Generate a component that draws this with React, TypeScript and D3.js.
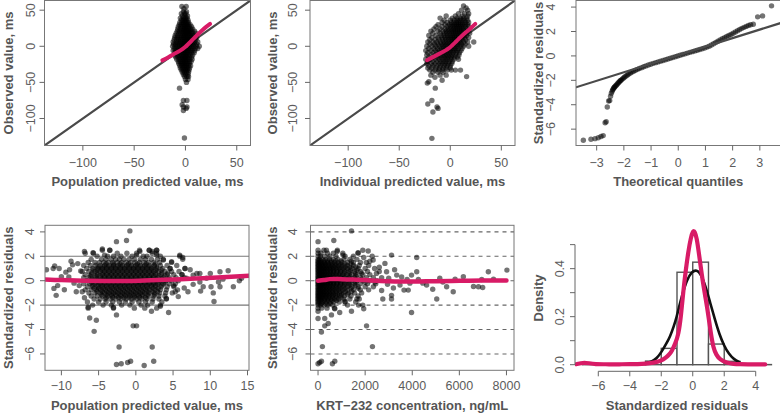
import React, { useEffect, useRef } from "react";
import * as d3 from "d3";

type Pt = [number, number];

// ---------- DATA ----------
// Panel 1: population predicted (x) vs observed (y); rows "observed: predicted values"
const p1Rows = [
  "55:-3.5 0.7", "52:-1.5", "48:-2 1", "45:-4 -1 0.5", "42:-3 -0.5 2", "39:-5 -2 0 1.5",
  "36:-4 -2.5 -1 0.5 2.5", "33:-5.5 -3 -1.5 0 1.5 3", "30:-6 -4 -2 -0.5 1 2.5 4.5",
  "27:-7 -4.5 -2.5 -1 0.5 2 3.5 6", "24:-7.5 -5 -3 -1.5 0 1.5 3 5 7",
  "21:-8 -6 -4 -2 -0.5 1 2.5 4 6 9", "18:-9 -6.5 -4.5 -2.5 -1 0.5 2 3.5 5 7 10",
  "15:-10 -7.5 -5 -3 -1.5 0 1.5 3 4.5 6.5 8.5", "12:-10.5 -8 -6 -4 -2 -0.5 1 2.5 4 6 8 11",
  "9:-11 -8.5 -6.5 -4.5 -2.5 -1 0.5 2 3.5 5.5 7.5 10", "6:-12 -9 -7 -5 -3 -1.5 0 1.5 3 5 7 9 12",
  "3:-11.5 -9.5 -7.5 -5.5 -3.5 -2 -0.5 1 2.5 4.5 6.5 8.5 11",
  "0:-12.5 -10 -8 -6 -4 -2.5 -1 0.5 2 4 6 8 10.5 13.5",
  "-3:-11 -9 -7 -5 -3 -1.5 0 1.5 3 5 7 9.5 12", "-6:-12 -9.5 -7.5 -5.5 -3.5 -2 -0.5 1 2.5 4.5 6.5 9",
  "-9:-10.5 -8.5 -6.5 -4.5 -2.5 -1 0.5 2 4 6 8.5", "-12:-11 -8 -6 -4 -2 -0.5 1 2.5 4.5 7",
  "-15:-9.5 -7 -5 -3 -1.5 0 1.5 3.5 6", "-18:-8.5 -6 -4 -2.5 -1 0.5 2 4 6.5",
  "-21:-7 -5 -3 -1.5 0 1.5 3.5 5.5", "-24:-6.5 -4 -2.5 -1 0.5 2 4", "-27:-5.5 -3.5 -2 -0.5 1 3 5",
  "-30:-5 -3 -1 0.5 2 4", "-33:-4 -2 0 1.5 3.5", "-36:-3 -1 1 3", "-39:-2 0 2.5", "-42:-1 1.5 3",
  "-46:0 2.5", "-50:1", "-58:-5.8", "-75:-2 1.4", "-81:-3.2", "-84:-2 1.5", "-86:0.7", "-89:-2", "-127:-1",
];
const p1Loess = "-22.5,-19.5 -17,-15.5 -11.7,-11 -5.2,-6 -0.3,-1 3,3.5 6.2,8 10,13.5 14.3,19.5 19,25.5 24,31";

// Panel 2: individual predicted (x) vs observed (y); rows "observed: predicted values"
const p2Rows = [
  "56:13", "53:15.5", "50:11 17", "45:8 14 18", "42:-4 5 12 17", "39:-10 2 7 10 13 16",
  "36:-6 0 4 6.5 9 11.5 14 17", "33:-8 -3 1 3.5 6 8 10 12.5 15 18",
  "30:-12 -5 -1 1.5 4 6 8 10 12 14.5 17", "27:-14 -8 -3 0 2.5 4.5 6.5 8.5 10.5 12.5 15 18",
  "24:-16 -10 -5 -2 0.5 3 5 7 9 11 13 16", "21:-19 -12 -7 -4 -1.5 1 3 5 7 9 11 13.5 16.5",
  "18:-17 -10 -6 -3.5 -1 1.5 3.5 5.5 7.5 9.5 12 15 19", "15:-21 -14 -9 -6 -3 -0.5 2 4 6 8 10.5 13 16",
  "12:-18 -12 -8 -5 -2.5 0 2 4 6 8.5 11 14 18", "9:-20 -15 -11 -7.5 -4.5 -2 0.5 2.5 4.5 7 9.5 12 15",
  "6:-22 -17 -13 -9.5 -6.5 -4 -1.5 1 3 5 7.5 10 13 17 23",
  "3:-20 -15.5 -12 -8.5 -6 -3.5 -1 1.5 3.5 6 8.5 11 14.5",
  "0:-23 -18 -14 -10.5 -7.5 -5 -2.5 0 2 4.5 7 10 13 18",
  "-3:-21 -16 -12.5 -9 -6.5 -4 -1.5 0.5 3 5.5 8 11.5", "-6:-24 -19 -14.5 -11 -8 -5.5 -3 -0.5 2 4.5 7 10.5",
  "-9:-22 -17 -13 -10 -7 -4.5 -2 0.5 3 6 9", "-12:-23 -18.5 -14.5 -11 -8 -5.5 -3 -0.5 2 5 8.5",
  "-15:-21 -16 -12.5 -9.5 -6.5 -4 -1.5 1 4 7", "-18:-24 -19 -14.5 -11 -8 -5 -2.5 0.5 3.5 8",
  "-21:-22 -17 -13 -9.5 -6.5 -4 -1 2", "-24:-23 -18.5 -15 -11 -8 -5 -2 1.5",
  "-27:-21 -17 -13 -9.5 -6 -3 0", "-30:-22 -18 -14 -10.5 -7 -4 0", "-33:-20 -15 -11 -7.5 -3 1 5 10",
  "-36:-17 -12 -7", "-40:-19 -10 -4", "-42:16", "-43:-15", "-47:-8", "-49:-21", "-51:-22.5",
  "-58:-14.7", "-75:-18", "-80:-22", "-84:-13", "-86:-12", "-91:-17", "-127.5:-18",
];
const p2Loess = "-22.8,-19.3 -17,-15 -11,-10.5 -5,-6 -1.6,-3 2,1.5 6,7 10,12.5 15,19 20,25 24.5,31";

// Panel 3: normal Q-Q of standardized residuals (theoretical, sample)
const p3Points =
  "-3.49,-6.91 -3.21,-6.83 -3.06,-6.78 -2.94,-6.7 -2.84,-6.6 -2.76,-6.53 -2.69,-5.47 -2.65,-5.4 -2.61,-4.18 " +
  "-2.56,-3.7 -2.52,-3.66 -2.49,-3.3 -2.46,-3.05 -2.43,-2.9 -2.41,-2.78 -2.39,-2.7 -2.37,-2.63 -2.35,-2.57 " +
  "-2.33,-2.52 -2.3,-2.45 -2.27,-2.38 -2.24,-2.3 -2.21,-2.22 -2.18,-2.15 -2.15,-2.08 -2.12,-2.02 -2.09,-1.96 " +
  "-2.05,-1.88 -2.01,-1.8 -1.97,-1.72 -1.92,-1.64 -1.87,-1.56 -1.82,-1.48 -1.76,-1.4 -1.7,-1.32 -1.64,-1.25 " +
  "-1.57,-1.17 -1.5,-1.1 -1.43,-1.03 -1.35,-0.96 -1.27,-0.89 -1.19,-0.82 -1.1,-0.75 -1.01,-0.68 -0.92,-0.61 " +
  "-0.83,-0.55 -0.74,-0.49 -0.65,-0.43 -0.56,-0.37 -0.47,-0.31 -0.38,-0.25 -0.29,-0.19 -0.2,-0.13 -0.11,-0.07 " +
  "-0.02,-0.01 0.07,0.05 0.16,0.11 0.25,0.17 0.34,0.23 0.43,0.29 0.52,0.35 0.61,0.41 0.7,0.47 0.79,0.53 " +
  "0.88,0.59 0.97,0.65 1.06,0.72 1.14,0.8 1.22,0.9 1.3,1.0 1.38,1.1 1.46,1.2 1.54,1.3 1.62,1.4 1.7,1.5 " +
  "1.78,1.59 1.86,1.67 1.94,1.76 2.02,1.86 2.1,1.96 2.18,2.06 2.26,2.16 2.34,2.26 2.42,2.34 2.5,2.42 " +
  "2.58,2.5 2.66,2.55 2.76,2.6 2.92,3.2 3.1,3.28 3.43,4.1";
const p3Line = "-3.76,-2.57 3.76,2.69";

// Panel 4: population predicted (x) vs standardized residual (y); rows "residual: predicted values"
const p4Rows = [
  "2.5:-4.5 -3.5 0.5 1.8 2.8", "2.25:-6.8 -5.7 -2.5 -1.2 0.1 2.2 2.8",
  "2.0:-5.2 -3.8 -3 -2 -0.5 1 1.5 3.3 5.9",
  "1.75:-6 -4.6 -4 -3.3 -2.7 -2.2 -1.6 -0.9 -0.2 0.6 1.3 2.1 2.9 3.7 6.3",
  "1.5:-6.4 -5.5 -4.9 -4.3 -3.7 -3.1 -2.5 -1.9 -1.3 -0.7 -0.1 0.5 1.1 1.7 2.4 3.2 4.8",
  "1.375:-4 -3 -2.1 -1 0.2 1.4 2.6",
  "1.25:-7 -6.1 -5.4 -4.8 -4.2 -3.6 -3 -2.4 -1.8 -1.2 -0.6 0 0.6 1.2 1.8 2.5 3.3 4.2 5.5",
  "1.125:-5.1 -4.5 -3.9 -3.3 -2.7 -2.1 -1.5 -0.9 -0.3 0.3 0.9 1.5 2.1 2.8",
  "1.0:-6.6 -5.8 -5.1 -4.5 -3.9 -3.3 -2.7 -2.1 -1.5 -0.9 -0.3 0.3 0.9 1.5 2.1 2.8 3.6 4.6 6.6",
  "0.875:-5.7 -5.1 -4.5 -3.9 -3.3 -2.7 -2.1 -1.5 -0.9 -0.3 0.3 0.9 1.5 2.1 2.7 3.4",
  "0.75:-7.2 -6.3 -5.5 -4.8 -4.2 -3.6 -3 -2.4 -1.8 -1.2 -0.6 0 0.6 1.2 1.8 2.4 3.1 3.9 4.8 5.8",
  "0.625:-5.9 -5.2 -4.5 -3.9 -3.3 -2.7 -2.1 -1.5 -0.9 -0.3 0.3 0.9 1.5 2.1 2.7 3.5 4.3",
  "0.5:-6.8 -6 -5.2 -4.5 -3.9 -3.3 -2.7 -2.1 -1.5 -0.9 -0.3 0.3 0.9 1.5 2.1 2.7 3.4 4.2 5.1 6.2",
  "0.375:-6.1 -5.4 -4.8 -4.2 -3.6 -3 -2.4 -1.8 -1.2 -0.6 0 0.6 1.2 1.8 2.4 3.1 3.9",
  "0.25:-7 -6.3 -5.5 -4.8 -4.2 -3.6 -3 -2.4 -1.8 -1.2 -0.6 0 0.6 1.2 1.8 2.4 3 3.7 4.5 5.4 6.5",
  "0.125:-5.9 -5.2 -4.5 -3.9 -3.3 -2.7 -2.1 -1.5 -0.9 -0.3 0.3 0.9 1.5 2.1 2.7 3.5 4.4",
  "0:-6.6 -5.8 -5.1 -4.5 -3.9 -3.3 -2.7 -2.1 -1.5 -0.9 -0.3 0.3 0.9 1.5 2.1 2.7 3.3 4 4.8 5.7",
  "-0.125:-6 -5.4 -4.8 -4.2 -3.6 -3 -2.4 -1.8 -1.2 -0.6 0 0.6 1.2 1.8 2.4 3.1 3.9",
  "-0.25:-7 -6.2 -5.5 -4.8 -4.2 -3.6 -3 -2.4 -1.8 -1.2 -0.6 0 0.6 1.2 1.8 2.4 3 3.7 4.5 5.3",
  "-0.375:-5.8 -5.1 -4.5 -3.9 -3.3 -2.7 -2.1 -1.5 -0.9 -0.3 0.3 0.9 1.5 2.1 2.7 3.5",
  "-0.5:-6.5 -5.8 -5.1 -4.5 -3.9 -3.3 -2.7 -2.1 -1.5 -0.9 -0.3 0.3 0.9 1.5 2.1 2.7 3.4 4.2 5.1",
  "-0.625:-5.6 -5 -4.4 -3.8 -3.2 -2.6 -2 -1.4 -0.8 -0.2 0.4 1 1.6 2.3 3",
  "-0.75:-6.8 -6 -5.3 -4.7 -4.1 -3.5 -2.9 -2.3 -1.7 -1.1 -0.5 0.1 0.7 1.3 1.9 2.6 3.3 4.1 5.6",
  "-0.875:-5.2 -4.5 -3.9 -3.3 -2.7 -2.1 -1.5 -0.9 -0.3 0.3 0.9 1.5 2.2 2.9",
  "-1.0:-6.3 -5.5 -4.8 -4.2 -3.6 -3 -2.4 -1.8 -1.2 -0.6 0 0.6 1.2 1.8 2.5 3.2 4 4.9",
  "-1.125:-4.6 -3.9 -3.3 -2.7 -2.1 -1.5 -0.9 -0.3 0.3 0.9 1.6 2.5",
  "-1.25:-6 -5.2 -4.5 -3.8 -3.2 -2.6 -2 -1.4 -0.8 -0.2 0.4 1 1.7 2.4 3.1 3.9",
  "-1.375:-4 -3.1 -2.3 -1.6 -0.9 -0.2 0.5 1.3",
  "-1.5:-5.6 -4.8 -4.1 -3.4 -2.7 -2 -1.3 -0.6 0.1 0.8 1.5 2.3 3.1 4.1",
  "-1.75:-6.5 -5 -4 -3.1 -2.2 -1.4 -0.5 0.4 1.3 2.2 3.5",
  "-2.0:-5.8 -4.4 -3.3 -1.9 -0.8 0.7 1.6 3.3", "-2.25:-6.4 -3 -0.2 1.2 2.8",
];
const p4Extra =
  "-0.8,4.08 -2.6,3.2 -1.25,3.3 -6.9,2.4 -5.75,2.3 -4.5,2.6 -8.7,1.6 -11.1,1.0 -10.9,1.2 -10.3,1.0 -9.4,0.7 " +
  "-8.9,0.9 -7.8,1.4 -11,-0.63 -10.7,-1.2 -9.6,-0.74 -10.5,-0.4 -10,0.33 -8,-0.9 -7.6,-0.4 -6.4,-2.17 -6.2,-3.05 " +
  "-5.3,-3.24 -5.6,-4.15 -3,-2.2 -2.6,-2.8 -0.36,-3.7 0.1,-3.7 -2.25,-5.43 2.2,-5.43 -2.6,-6.86 -1.96,-6.8 " +
  "-1.1,-6.7 -0.7,-6.6 1.12,-6.95 2.4,-6.6 2.1,-2.5 4.4,-2.6 3.3,-2.1 5.9,2.1 6.3,1.9 6.6,1.0 7.3,0.9 7.7,0.46 " +
  "8.6,0.6 8.6,-0.1 8.7,-0.85 9.05,-0.5 10.1,-0.5 10.4,-1.0 10.5,-1.7 11.3,0.74 11.3,-0.5 11.1,-0.1 11.7,0.13 " +
  "12.4,0.82 13.1,-0.5 13.9,0 14.2,0.2 7.7,-0.3 6.8,0.2 5.1,-0.4 5.3,-0.9 5.7,-1.3 4.1,-1.46 4.6,1.0 4.8,1.56 " +
  "3.7,1.7 2.8,2.5 2.2,2.4 1.8,2.5 2.8,2.1 0.54,2.4 0.1,2.1 -3.5,2.5 -4.2,2.1 8.2,0.6 -8.3,-0.2 -9,0.3 -7.4,0.8 " +
  "-8.5,1.3 -12,0.9 -6.9,-1.4 -7.2,-0.9 6.5,-0.6 6.2,0.5 7,-0.9 9.5,0.2 10,0.6";
const p4Loess = "-12.2,0.1 -10,0.05 -7,0.0 -4,-0.02 -1,-0.03 2,0.03 5,0.1 8,0.18 11,0.27 15.2,0.41";

// Panel 5: KRT-232 concentration (x) vs standardized residual (y); rows "residual: concentrations"
const p5Rows = [
  "2.5:0 250 820 1900", "2.25:0 120 400 650 1050 1700", "2.0:0 100 280 500 760 1150 1500 2300",
  "1.75:0 60 180 330 480 650 850 1100 1350 1650",
  "1.625:0 110 250 400 570 760 980",
  "1.5:0 50 150 270 400 540 690 850 1020 1250 1500 1800 2050",
  "1.375:0 90 200 320 450 600 760 950 1150 1400",
  "1.25:0 40 130 230 340 460 590 730 880 1050 1250 1500 1750 2150",
  "1.125:0 90 190 300 410 530 660 810 970 1150 1350 1600",
  "1.0:0 50 140 240 350 470 600 740 890 1060 1250 1450 1700 2000 2400",
  "0.875:0 90 190 290 400 520 650 800 960 1150 1380 1650",
  "0.75:0 40 120 210 310 420 540 670 810 960 1130 1320 1550 1800 2100 2600",
  "0.625:0 90 180 280 390 510 640 780 940 1120 1330 1580 1850",
  "0.5:0 50 140 240 350 470 600 740 890 1050 1230 1430 1650 1900 2200",
  "0.375:0 90 190 290 400 520 650 800 960 1140 1350 1600",
  "0.25:0 40 120 210 310 420 540 670 810 960 1130 1320 1550 1800 2050 2350 2700",
  "0.125:0 90 180 280 390 510 640 780 940 1120 1330 1580 1850",
  "0:0 50 140 240 350 470 600 740 890 1050 1230 1430 1650 1900 2200 2500",
  "-0.125:0 90 190 290 400 520 650 800 960 1140 1350 1600 2000",
  "-0.25:0 40 120 210 310 420 540 670 810 960 1130 1320 1550 1800 2100 2450",
  "-0.375:0 90 180 280 390 510 640 780 940 1120 1330 1580",
  "-0.5:0 50 140 240 350 470 600 740 890 1060 1250 1450 1700 2000 2350",
  "-0.625:0 90 190 290 400 520 650 800 960 1150 1400 1700",
  "-0.75:0 40 130 230 340 460 590 730 880 1050 1250 1500 1800 2150",
  "-0.875:0 90 180 280 390 510 640 790 960 1160 1420",
  "-1.0:0 50 140 240 350 470 600 740 900 1080 1300 1550 1850",
  "-1.125:0 90 190 290 400 520 660 820 1000 1250",
  "-1.25:0 40 130 230 340 460 600 750 920 1120 1400 1700",
  "-1.375:0 100 210 340 470 620 790 980",
  "-1.5:0 60 160 280 410 550 700 880 1100 1350 1650",
  "-1.625:0 130 270 420 590 780",
  "-1.75:0 80 200 350 500 680 900 1150 1600", "-1.875:0 150 320 520",
  "-2.0:0 100 250 420 620 1250 1900", "-2.25:0 150 380 700",
];
const p5Extra =
  "1420,4.08 0,3.2 670,3.3 2130,2.44 2340,1.7 3120,2.1 4190,1.9 4190,0.74 4610,-0.36 4870,-0.7 5040,-1.5 " +
  "5170,0.2 5460,-0.5 5740,-0.9 5820,0.13 6170,0.33 6600,-0.47 6810,-0.5 6950,0.1 7230,0.74 7450,0.13 8020,0.87 " +
  "6990,-0.55 3970,-2.6 3120,-1.5 3120,-1.2 3480,-0.36 3650,-0.77 3830,-0.77 3780,0.1 3970,0.46 4260,0.1 " +
  "3340,0.46 2910,0.74 2840,1.42 2480,0.6 2410,-0.1 0,-2.5 0,-3.1 285,-3.1 570,-2.8 430,-3.5 285,-3.7 145,-4.2 " +
  "185,-5.4 0,-6.8 70,-6.7 145,-6.6 610,-6.8 710,-6.6 2060,-3.7 2310,-5.4 1420,-2.5 920,-2.6 710,-2.3 1940,-2.3 " +
  "1720,-2 1140,-1.7 810,2.4 355,2.5 1060,2.1 1700,2.3 1940,1.9 1420,1.6 2700,-0.8 2950,-0.3 3000,0.2 3250,0.9 " +
  "3550,0.3 2600,1.1 3200,-0.6 2750,-1.5 4450,-0.2 5300,-0.1 2200,1.6 1750,-1.5 3900,-0.2";
const p5Loess = "0,0 250,0.05 500,0.13 1000,0.13 1500,0.1 2000,0.05 2500,0 3000,-0.04 3500,-0.06 4300,-0.06 5000,-0.04 6000,-0.01 7000,0.01 8000,0.02";

// Panel 6: histogram of standardized residuals (bin start, density), normal curve, kernel density
const p6BinStarts = [-7, -6, -5, -4, -3, -2, -1, 0, 1, 2, 3, 4];
const p6BinDensity = [0.004, 0.0005, 0.0005, 0.002, 0.015, 0.068, 0.385, 0.427, 0.086, 0.014, 0.0015, 0.0005];
const p6Normal =
  "-3.0,0.006 -2.6,0.0125 -2.3,0.025 -1.97,0.054 -1.7,0.085 -1.44,0.117 -1.2,0.16 -1.02,0.2 -0.85,0.245 " +
  "-0.7,0.283 -0.38,0.353 -0.06,0.388 0.25,0.395 0.5,0.38 0.8,0.33 1.1,0.26 1.4,0.19 1.7,0.125 2.0,0.078 " +
  "2.3,0.044 2.6,0.023 3.0,0.009";
const p6Kde =
  "-7.4,0.002 -7.1,0.006 -6.9,0.009 -6.6,0.006 -6.2,0.002 -5.5,0.002 -5,0.001 -4.5,0.002 -4,0.002 -3.5,0.002 " +
  "-3,0.004 -2.5,0.008 -2,0.016 -1.7,0.03 -1.5,0.042 -1.33,0.056 -1.1,0.09 -0.91,0.125 -0.75,0.2 -0.6,0.306 " +
  "-0.45,0.39 -0.28,0.472 -0.12,0.53 0.02,0.558 0.12,0.556 0.25,0.53 0.4,0.46 0.57,0.375 0.78,0.29 0.99,0.208 " +
  "1.15,0.13 1.31,0.07 1.5,0.04 1.73,0.021 2.16,0.007 2.6,0.003 3,0.002 3.5,0.001 4,0.002 4.6,0.001";

// Tick values
const ticksObsPred = [-100, -50, 0, 50];
const ticksQQx = [-3, -2, -1, 0, 1, 2, 3];
const ticksResid = [-6, -4, -2, 0, 2, 4];
const ticksPredBottom = [-10, -5, 0, 5, 10, 15];
const ticksConc = [0, 2000, 4000, 6000, 8000];
const ticksHistX = [-6, -4, -2, 0, 2, 4];
const ticksDensity = [0, 0.1, 0.2, 0.3, 0.4, 0.5];
const labelsDensity = ["0.0", "", "0.2", "", "0.4", ""];
const refLinesP4 = [-2, 2];
const refLinesP5 = [-6, -4, -2, 0, 2, 4];

// ---------- helpers ----------
const parseRows = (rows: string[]): Pt[] =>
  rows.flatMap((r) => {
    const [ys, xs] = r.split(":");
    const yv = +ys;
    return xs.trim().split(/\s+/).map((v) => [+v, yv] as Pt);
  });
const parsePairs = (s: string): Pt[] =>
  s.trim().split(/\s+/).map((p) => {
    const [a, b] = p.split(",");
    return [+a, +b] as Pt;
  });

const PINK = "#d81b66";
const FONT = "'Liberation Sans', Arial, Helvetica, sans-serif";
const TICK_COLOR = "#5c5c5c";
const TITLE_COLOR = "#555";
const fmt = (v: number) => (v < 0 ? "\u2212" + Math.abs(v) : String(v));

interface Cfg {
  id: string;
  left: number; right: number; top: number; bottom: number;
  xDom: [number, number]; yDom: [number, number];
}

function makePanel(svg: any, c: Cfg) {
  const x = d3.scaleLinear().domain(c.xDom).range([c.left, c.right]);
  const y = d3.scaleLinear().domain(c.yDom).range([c.bottom, c.top]);
  svg.append("clipPath").attr("id", c.id).append("rect")
    .attr("x", c.left).attr("y", c.top).attr("width", c.right - c.left).attr("height", c.bottom - c.top);
  const g = svg.append("g");
  const plot = g.append("g").attr("clip-path", `url(#${c.id})`);
  return { x, y, g, plot, c };
}

function box(p: any) {
  const { c } = p;
  p.g.append("rect").attr("x", c.left).attr("y", c.top)
    .attr("width", c.right - c.left).attr("height", c.bottom - c.top)
    .attr("fill", "none").attr("stroke", "#777").attr("stroke-width", 1);
}

function xAxis(p: any, yPos: number, ticks: number[], labels: string[], labelY: number, line = false) {
  const g = p.g.append("g");
  if (line) g.append("line").attr("x1", p.x(ticks[0])).attr("x2", p.x(ticks[ticks.length - 1]))
    .attr("y1", yPos).attr("y2", yPos).attr("stroke", "#666").attr("stroke-width", 1);
  ticks.forEach((t, i) => {
    g.append("line").attr("x1", p.x(t)).attr("x2", p.x(t)).attr("y1", yPos).attr("y2", yPos + 5)
      .attr("stroke", "#666").attr("stroke-width", 1);
    if (labels[i]) g.append("text").attr("x", p.x(t)).attr("y", labelY).attr("text-anchor", "middle")
      .attr("font-size", 12.5).attr("fill", TICK_COLOR).text(labels[i]);
  });
}

function yAxis(p: any, xPos: number, ticks: number[], labels: string[], labelX: number, line = false) {
  const g = p.g.append("g");
  if (line) g.append("line").attr("y1", p.y(ticks[0])).attr("y2", p.y(ticks[ticks.length - 1]))
    .attr("x1", xPos).attr("x2", xPos).attr("stroke", "#666").attr("stroke-width", 1);
  ticks.forEach((t, i) => {
    g.append("line").attr("y1", p.y(t)).attr("y2", p.y(t)).attr("x1", xPos).attr("x2", xPos - 5)
      .attr("stroke", "#666").attr("stroke-width", 1);
    if (labels[i]) g.append("text").attr("transform", `translate(${labelX},${p.y(t)}) rotate(-90)`)
      .attr("text-anchor", "middle").attr("font-size", 12.5).attr("fill", TICK_COLOR).text(labels[i]);
  });
}

function titles(p: any, xt: string, xtY: number, yt: string, ytX: number) {
  const { c } = p;
  p.g.append("text").attr("x", (c.left + c.right) / 2).attr("y", xtY).attr("text-anchor", "middle")
    .attr("font-size", 13).attr("font-weight", "bold").attr("fill", TITLE_COLOR).text(xt);
  p.g.append("text").attr("transform", `translate(${ytX},${(c.top + c.bottom) / 2}) rotate(-90)`)
    .attr("text-anchor", "middle").attr("font-size", 13).attr("font-weight", "bold")
    .attr("fill", TITLE_COLOR).text(yt);
}

function dots(p: any, pts: Pt[]) {
  p.plot.append("g").selectAll("circle").data(pts).join("circle")
    .attr("cx", (d: Pt) => p.x(d[0])).attr("cy", (d: Pt) => p.y(d[1]))
    .attr("r", 2.7).attr("fill", "#000").attr("fill-opacity", 0.55);
}

function path(p: any, pts: Pt[], color: string, width: number, curve: any = d3.curveCatmullRom) {
  const line = d3.line<Pt>().x((d) => p.x(d[0])).y((d) => p.y(d[1])).curve(curve);
  p.plot.append("path").attr("d", line(pts)).attr("fill", "none").attr("stroke", color)
    .attr("stroke-width", width).attr("stroke-linecap", "round").attr("stroke-linejoin", "round");
}

export default function App() {
  const ref = useRef<SVGSVGElement>(null);
  useEffect(() => {
    const svg = d3.select(ref.current!);
    svg.selectAll("*").remove();

    // ---- Panel 1
    const dom1: [number, number] = [-137.4, 63.4];
    const p1 = makePanel(svg, { id: "c1", left: 44.5, right: 250.5, top: 0.5, bottom: 145.5, xDom: dom1, yDom: dom1 });
    path(p1, [[dom1[0], dom1[0]], [dom1[1], dom1[1]]], "#4a4a4a", 2.2, d3.curveLinear);
    dots(p1, parseRows(p1Rows));
    path(p1, parsePairs(p1Loess), PINK, 4);
    box(p1);
    xAxis(p1, 145.5, ticksObsPred, ticksObsPred.map(fmt), 166.5);
    yAxis(p1, 44.5, ticksObsPred, ticksObsPred.map(fmt), 34.5);
    titles(p1, "Population predicted value, ms", 185.5, "Observed value, ms", 13);

    // ---- Panel 2
    const p2 = makePanel(svg, { id: "c2", left: 310, right: 515, top: 0.5, bottom: 145.5, xDom: dom1, yDom: dom1 });
    path(p2, [[dom1[0], dom1[0]], [dom1[1], dom1[1]]], "#4a4a4a", 2.2, d3.curveLinear);
    dots(p2, parseRows(p2Rows));
    path(p2, parsePairs(p2Loess), PINK, 4);
    box(p2);
    xAxis(p2, 145.5, ticksObsPred, ticksObsPred.map(fmt), 166.5);
    yAxis(p2, 310, ticksObsPred, ticksObsPred.map(fmt), 296.8);
    titles(p2, "Individual predicted value, ms", 185.5, "Observed value, ms", 276.5);

    // ---- Panel 3
    const residDom: [number, number] = [-7.34, 4.54];
    const p3 = makePanel(svg, { id: "c3", left: 576, right: 780.5, top: 0.5, bottom: 145.5, xDom: [-3.76, 3.76], yDom: residDom });
    dots(p3, parsePairs(p3Points));
    path(p3, parsePairs(p3Line), "#4a4a4a", 2.2, d3.curveLinear);
    box(p3);
    xAxis(p3, 145.5, ticksQQx, ticksQQx.map(fmt), 166.5);
    yAxis(p3, 576, ticksResid, ticksResid.map(fmt), 554.5);
    titles(p3, "Theoretical quantiles", 185.5, "Standardized residuals", 543);

    // ---- Panel 4
    const p4 = makePanel(svg, { id: "c4", left: 45, right: 249, top: 225.3, bottom: 370.3, xDom: [-12.2, 15.2], yDom: residDom });
    refLinesP4.forEach((v) => path(p4, [[-12.2, v], [15.2, v]], "#777", 1.1, d3.curveLinear));
    dots(p4, parseRows(p4Rows).concat(parsePairs(p4Extra)));
    path(p4, parsePairs(p4Loess), PINK, 4.5);
    box(p4);
    xAxis(p4, 370.3, ticksPredBottom, ticksPredBottom.map(fmt), 389.5);
    yAxis(p4, 45, ticksResid, ticksResid.map(fmt), 33.8);
    titles(p4, "Population predicted value, ms", 409.5, "Standardized residuals", 13.3);

    // ---- Panel 5
    const p5 = makePanel(svg, { id: "c5", left: 310.5, right: 514, top: 225.3, bottom: 370.3, xDom: [-320, 8320], yDom: residDom });
    refLinesP5.forEach((v) => {
      p5.plot.append("line").attr("x1", 310.5).attr("x2", 514).attr("y1", p5.y(v)).attr("y2", p5.y(v))
        .attr("stroke", "#666").attr("stroke-width", 1.1).attr("stroke-dasharray", "4,4");
    });
    dots(p5, parseRows(p5Rows).concat(parsePairs(p5Extra)));
    path(p5, parsePairs(p5Loess), PINK, 4.5);
    box(p5);
    xAxis(p5, 370.3, ticksConc, ticksConc.map(String), 389.5);
    yAxis(p5, 310.5, ticksResid, ticksResid.map(fmt), 296.8);
    titles(p5, "KRT\u2212232 concentration, ng/mL", 409.5, "Standardized residuals", 276.7);

    // ---- Panel 6
    const p6 = makePanel(svg, { id: "c6", left: 575, right: 779, top: 224.7, bottom: 371.3, xDom: [-7.48, 5.48], yDom: [-0.0275, 0.583] });
    p6.plot.append("g").selectAll("rect").data(p6BinStarts).join("rect")
      .attr("x", (d: number) => p6.x(d)).attr("width", (d: number) => p6.x(d + 1) - p6.x(d))
      .attr("y", (_: number, i: number) => p6.y(p6BinDensity[i]))
      .attr("height", (_: number, i: number) => p6.y(0) - p6.y(p6BinDensity[i]))
      .attr("fill", "#fff").attr("stroke", "#555").attr("stroke-width", 1.4);
    path(p6, parsePairs(p6Normal), "#111", 2.6, d3.curveBasis);
    path(p6, parsePairs(p6Kde), PINK, 4.2, d3.curveBasis);
    xAxis(p6, 371.3, ticksHistX, ticksHistX.map(fmt), 389.5, true);
    yAxis(p6, 575, ticksDensity, labelsDensity, 563.5, true);
    titles(p6, "Standardized residuals", 409.5, "Density", 542.5);
  }, []);

  return (
    <svg
      ref={ref}
      width={780}
      height={416}
      style={{ position: "absolute", left: 0, top: 0, background: "#fff" }}
      fontFamily={FONT}
    />
  );
}
